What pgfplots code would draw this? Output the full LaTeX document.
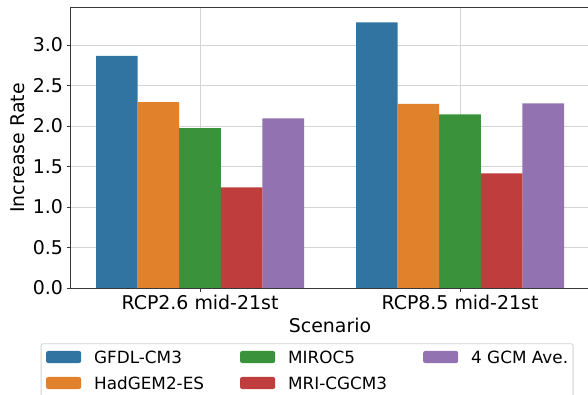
\documentclass[border=0pt]{standalone}
\usepackage{pgfplots}
\pgfplotsset{compat=1.18}
\usepackage{fontspec}
\setmainfont{DejaVu Sans}
\definecolor{cBlue}{RGB}{50,116,161}
\definecolor{cOrange}{RGB}{225,129,44}
\definecolor{cGreen}{RGB}{58,146,58}
\definecolor{cRed}{RGB}{192,61,62}
\definecolor{cPurple}{RGB}{147,114,178}
\begin{document}
\begin{tikzpicture}
\useasboundingbox (0,0) rectangle (588bp,395bp);
\begin{axis}[
  at={(70bp,107bp)}, anchor=south west,
  width=520bp, height=280bp, scale only axis,
  xmin=-0.5, xmax=1.5, ymin=0, ymax=3.457,
  ybar, bar width=0.16,
  xtick={0,1}, xticklabels={RCP2.6 mid-21st, RCP8.5 mid-21st},
  ytick={0,0.5,1,1.5,2,2.5,3},
  yticklabel style={/pgf/number format/.cd, fixed, fixed zerofill, precision=1, assume math mode=true},
  tick label style={font=\fontsize{19}{22}\selectfont},
  label style={font=\fontsize{19}{22}\selectfont},
  xlabel={Scenario}, ylabel={Increase Rate},
  xlabel style={at={(axis description cs:0.5,-0.132)}, anchor=center},
  ylabel style={at={(axis description cs:-0.101,0.5)}, anchor=center, rotate=0},
  grid=major, major grid style={line width=0.9bp, color=black!17},
  axis line style={line width=1bp, color=black!78},
  tick align=outside, tick pos=left, major tick length=3.5bp,
  tick style={line width=1bp, color=black!78},
  legend columns=3,
  legend style={
    at={(axis description cs:-0.0563,-0.1975)}, anchor=north west,
    draw=black!18, line width=0.8bp, rounded corners=2bp, fill=white,
    inner xsep=5bp, inner ysep=6.5bp,
    font=\fontsize{16.9}{20}\selectfont,
    cells={anchor=base west},
    nodes={inner sep=0pt, text height=13bp, text depth=3bp},
    row sep=10bp,
    /tikz/every odd column/.style={column sep=13bp},
    /tikz/every even column/.style={column sep=36bp},
  },
  legend image code/.code={\fill[#1,draw=none] (0bp,0.2bp) rectangle (35bp,12.2bp);},
]
\addplot[fill=cBlue, draw=none, bar shift=-0.32] coordinates {(0,2.866) (1,3.280)};
\addplot[fill=cGreen, draw=none, bar shift=0] coordinates {(0,1.974) (1,2.144)};
\addplot[fill=cPurple, draw=none, bar shift=0.32] coordinates {(0,2.095) (1,2.280)};
\addplot[fill=cOrange, draw=none, bar shift=-0.16] coordinates {(0,2.296) (1,2.272)};
\addplot[fill=cRed, draw=none, bar shift=0.16] coordinates {(0,1.243) (1,1.416)};
\legend{GFDL-CM3, MIROC5, 4 GCM Ave., HadGEM2-ES, MRI-CGCM3}
\end{axis}
\end{tikzpicture}
\end{document}
